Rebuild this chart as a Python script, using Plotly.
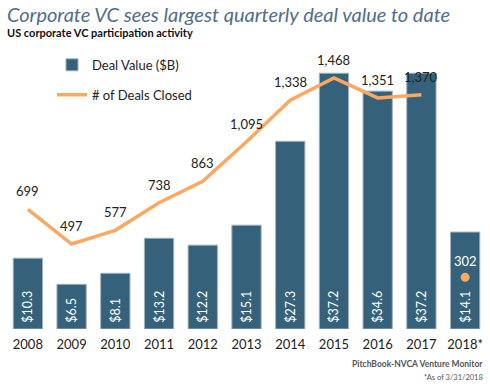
import plotly.graph_objects as go

years = ["2008", "2009", "2010", "2011", "2012", "2013", "2014", "2015", "2016", "2017", "2018*"]
deal_value = [10.3, 6.5, 8.1, 13.2, 12.2, 15.1, 27.3, 37.2, 34.6, 37.2, 14.1]
deal_count_years = ["2008", "2009", "2010", "2011", "2012", "2013", "2014", "2015", "2016", "2017"]
deal_count = [699, 497, 577, 738, 863, 1095, 1338, 1468, 1351, 1370]
partial_year = ["2018*"]
partial_count = [302]

BAR = "#35627A"
ORANGE = "#FBA862"
FONT = "Lato"

fig = go.Figure()
fig.add_trace(go.Bar(
    x=years, y=deal_value, name="Deal Value ($B)",
    marker=dict(color=BAR, line=dict(color="#9fb3be", width=1)),
    width=0.67,
    text=[f"\u00a0${v:.1f}" for v in deal_value],
    textposition="inside", insidetextanchor="start", textangle=-90,
    textfont=dict(color="white", size=12.5, family=FONT),
    legendgroup="a",
))
fig.add_trace(go.Scatter(
    x=deal_count_years, y=deal_count, name="# of Deals Closed",
    mode="lines", line=dict(color=ORANGE, width=3.5),
    yaxis="y2", legendgroup="b",
))
fig.add_trace(go.Scatter(
    x=partial_year, y=partial_count, mode="markers",
    marker=dict(color=ORANGE, size=9), yaxis="y2", showlegend=False,
))

annotations = []
# category axis: annotations use the category index
for x, v in zip(deal_count_years, deal_count):
    annotations.append(dict(x=years.index(x), y=v, xref="x", yref="y2", text=f"{v:,}",
                            showarrow=False, yshift=18,
                            font=dict(size=13, color="#222", family=FONT)))
for x, v in zip(partial_year, partial_count):
    annotations.append(dict(x=years.index(x), y=v, xref="x", yref="y2", text=f"{v:,}",
                            showarrow=False, yshift=16,
                            font=dict(size=13, color="white", family=FONT)))

W, H = 490, 386
L, R, T, B = 6, 3, 54, 57
pw, ph = W - L - R, H - T - B

def px(x, y):
    return (x - L) / pw, (H - y - B) / ph

for (x, y), text, font, anchor in [
    ((5, 14), "Corporate VC sees largest quarterly deal value to date",
     dict(size=20, color="#4F6E8E", family=FONT, style="italic"), "left"),
    ((5, 33), "US corporate VC participation activity",
     dict(size=11, color="#111", family=FONT, weight="bold"), "left"),
    ((485, 364), "PitchBook-NVCA Venture Monitor",
     dict(size=8.5, color="#555", family=FONT, weight="bold"), "right"),
    ((485, 377), "*As of 3/31/2018",
     dict(size=7.5, color="#555", family=FONT), "right"),
]:
    ax, ay = px(x, y)
    annotations.append(dict(x=ax, y=ay, xref="paper", yref="paper", text=text,
                            showarrow=False, xanchor=anchor, yanchor="middle", font=font))

fig.update_layout(
    width=W, height=H,
    margin=dict(l=L, r=R, t=T, b=B, pad=0),
    paper_bgcolor="white", plot_bgcolor="white",
    font=dict(family=FONT, color="#222"),
    showlegend=True,
    legend=dict(x=(92 - 40 - L) / pw, y=1.015, xanchor="left", yanchor="top",
                bgcolor="rgba(0,0,0,0)", font=dict(size=13, color="#222", family=FONT),
                traceorder="grouped", tracegroupgap=10),
    xaxis=dict(type="category", range=[-0.5, len(years) - 0.5], showgrid=False, showline=False,
               ticks="outside", ticklen=3, tickcolor="rgba(0,0,0,0)",
               tickfont=dict(size=13, color="#222", family=FONT)),
    yaxis=dict(range=[0, 40], visible=False, showgrid=False),
    yaxis2=dict(range=[0, 1608], visible=False, overlaying="y", showgrid=False),
    annotations=annotations,
)

fig.write_html("out.html", config={"displayModeBar": False},
               post_script="document.body.style.margin='0';")
